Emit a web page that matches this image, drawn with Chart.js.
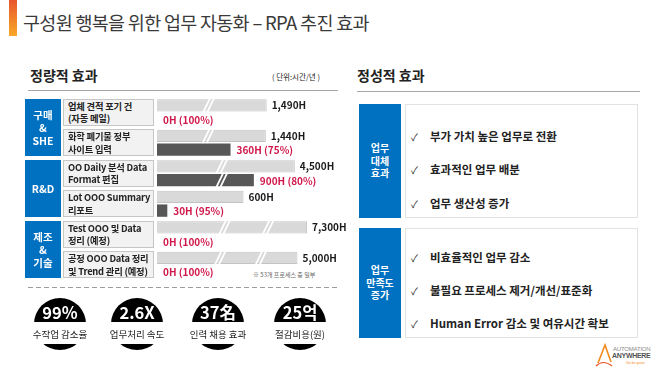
<!DOCTYPE html>
<html>
<head>
<meta charset="utf-8">
<script src="https://cdn.jsdelivr.net/npm/chart.js@4.4.1/dist/chart.umd.min.js"></script>
<style>
body { margin:0; width:660px; height:371px; overflow:hidden; background:#fff; position:relative;
       font-family:"Noto Sans CJK KR","Noto Sans",sans-serif; color:#222; }
.abs { position:absolute; }
.accent { left:9px; top:0; width:8px; height:36px; background:linear-gradient(#e8552b,#f8a928); }
.title { left:23px; top:7px; font-size:18.5px; line-height:30px; letter-spacing:-0.7px; color:#3a3a3a; white-space:nowrap; }
.h2 { font-size:14px; font-weight:700; line-height:20px; white-space:nowrap; }
.unit { left:272px; top:71px; font-size:7.5px; line-height:12px; white-space:nowrap; }
.rule { height:1px; background:#a6a6a6; }
.group { background:#0070c0; color:#fff; font-weight:700; font-size:10.5px; line-height:13px;
         display:flex; align-items:center; justify-content:center; text-align:center; white-space:pre; }
.task { background:#f2f2f2; border:1px solid #c6c6c6; box-sizing:border-box; font-weight:700; font-size:9.3px;
        line-height:12.5px; letter-spacing:-0.2px; padding-left:4px; display:flex; flex-direction:column; justify-content:center; white-space:nowrap; }
.note { left:253px; top:270px; font-size:6px; line-height:10px; color:#666; white-space:nowrap; }
.dash { left:28px; top:287px; width:310px; height:1px;
        background:repeating-linear-gradient(90deg,#9c9c9c 0 5px,transparent 5px 8px); }
.circle { width:52px; height:52px; border-radius:50%; background:#000; }
.band { width:70px; height:22px; background:#fff; }
.kval { width:70px; text-align:center; color:#fff; font-weight:700; font-size:16.5px; line-height:20px; }
.klab { width:90px; text-align:center; font-size:9.5px; line-height:14px; white-space:nowrap; }
.tag { left:359px; width:42px; background:#0070c0; color:#fff; font-weight:700; font-size:10px; line-height:12.5px;
       display:flex; align-items:center; justify-content:center; text-align:center; white-space:pre; }
.panel { left:405px; width:233px; border:1px solid #e2e2e2; box-sizing:border-box; background:#fff; }
.item { left:411px; font-weight:700; font-size:11.5px; line-height:16px; white-space:nowrap; }
.item span { display:inline-block; width:19px; font-weight:400; font-size:10px; }
#barWrap { left:155px; top:95px; width:200px; height:190px; }
</style>
</head>
<body>
<div class="abs accent"></div>
<div class="abs title">구성원 행복을 위한 업무 자동화 – RPA 추진 효과</div>
<div class="abs h2" style="left:30px;top:65px">정량적 효과</div>
<div class="abs unit">( 단위:시간/년 )</div>
<div class="abs rule" style="left:28px;top:90px;width:310px"></div>
<div class="abs h2" style="left:357px;top:65px">정성적 효과</div>
<div class="abs rule" style="left:357px;top:91px;width:283px"></div>
<div class="abs note">※ 53개 프로세스 중 일부</div>
<div class="abs dash"></div>
<div id="barWrap" class="abs"><canvas id="hoursChart" width="200" height="190"></canvas></div>
<div id="layer"></div>
<svg class="abs" style="left:594px;top:342px" width="66" height="29" viewBox="0 0 66 29">
  <path d="M4 21 L11 3 L17 20" fill="none" stroke="#f28a1e" stroke-width="1.6"/>
  <path d="M2 24 Q9 17 18 24" fill="none" stroke="#e8552b" stroke-width="1.2"/>
  <text x="19" y="9" font-size="6" fill="#8a8a8a" font-family="Liberation Sans" letter-spacing="-0.2">AUTOMATION</text>
  <text x="18" y="16" font-size="7" font-weight="700" fill="#555" font-family="Liberation Sans" letter-spacing="-0.3">ANYWHERE</text>
  <text x="32" y="22" font-size="3.5" fill="#f28a1e" font-family="Liberation Sans">Go be great.</text>
</svg>
<script>
// 정량적 효과 (단위: 시간/년)
const groupNames = ['구매\n&\nSHE', 'R&D', '제조\n&\n기술'];
const taskGroups = [0, 0, 1, 1, 2, 2];
const taskNames = [
    ['업체 견적 포기 건', '(자동 메일)'],
    ['화학 폐기물 정부', '사이트 입력'],
    ['OO Daily 분석 Data', 'Format 편집'],
    ['Lot OOO Summary', '리포트'],
    ['Test OOO 및 Data', '정리 (예정)'],
    ['공정 OOO Data 정리', '및 Trend 관리 (예정)']
];
const hoursBefore = [1490, 1440, 4500, 600, 7300, 5000];
const hoursAfter = [0, 360, 900, 30, 0, 0];
// 축 생략 표시(//) 개수
const breaksBefore = [1, 1, 1, 0, 2, 2];
const breaksAfter = [0, 0, 1, 0, 0, 0];

// KPI
const kpiValues = ['99%', '2.6X', '37名', '25억'];
const kpiLabels = ['수작업 감소율', '업무처리 속도', '인력 채용 효과', '절감비용(원)'];

// 정성적 효과
const replaceTag = '업무\n대체\n효과';
const replaceItems = ['부가 가치 높은 업무로 전환', '효과적인 업무 배분', '업무 생산성 증가'];
const satisfyTag = '업무\n만족도\n증가';
const satisfyItems = ['비효율적인 업무 감소', '불필요 프로세스 제거/개선/표준화', 'Human Error 감소 및 여유시간 확보'];

function fmt(v) { return v.toLocaleString('en-US') + 'H'; }

// 막대 라벨 + 생략 표시
const barDecor = {
    id: 'barDecor',
    afterDatasetsDraw(chart) {
        const ctx = chart.ctx;
        const m0 = chart.getDatasetMeta(0);
        const m1 = chart.getDatasetMeta(1);
        ctx.save();
        ctx.textBaseline = 'middle';
        ctx.font = 'bold 10px "Noto Sans CJK KR"';
        m0.data.forEach(function(bar, i) {
            const len = bar.x - bar.base;
            const fr = breaksBefore[i] === 1 ? [0.47] : breaksBefore[i] === 2 ? [0.45, 0.74] : [];
            fr.forEach(function(f) {
                drawBreak(ctx, bar.base + f * len, bar.y, bar.height);
                if (breaksAfter[i]) drawBreak(ctx, bar.base + f * len, m1.data[i].y, m1.data[i].height);
            });
            ctx.fillStyle = '#1a1a1a';
            ctx.fillText(fmt(hoursBefore[i]), bar.x + 5, bar.y);
        });
        ctx.fillStyle = '#d0174a';
        m1.data.forEach(function(bar, i) {
            const pct = Math.round((1 - hoursAfter[i] / hoursBefore[i]) * 100);
            ctx.fillText(fmt(hoursAfter[i]) + ' (' + pct + '%)', bar.x + 6, bar.y + 1);
        });
        ctx.restore();
    }
};

function drawBreak(ctx, x, y, h) {
    ctx.strokeStyle = '#fff';
    ctx.lineWidth = 1.8;
    [-2, 2].forEach(function(o) {
        ctx.beginPath();
        ctx.moveTo(x + o - 3.5, y + h / 2 + 1);
        ctx.lineTo(x + o + 3.5, y - h / 2 - 1);
        ctx.stroke();
    });
}

const chart = new Chart(document.getElementById('hoursChart'), {
    type: 'bar',
    data: {
        labels: taskNames.map(function(t) { return t.join(' '); }),
        datasets: [{
            label: '기존',
            data: hoursBefore,
            backgroundColor: '#d9d9d9',
            borderColor: '#c3c3c3',
            borderWidth: 1,
            categoryPercentage: 0.9,
            barPercentage: 0.9
        }, {
            label: 'RPA 적용 후',
            data: hoursAfter,
            backgroundColor: '#575757',
            minBarLength: 2,
            categoryPercentage: 0.9,
            barPercentage: 0.9
        }]
    },
    options: {
        indexAxis: 'y',
        responsive: false,
        animation: false,
        layout: { padding: { left: 2, top: 2, right: 8, bottom: 5 } },
        scales: {
            x: { type: 'logarithmic', min: 20, max: 35000, display: false },
            y: { display: false }
        },
        plugins: { legend: { display: false }, tooltip: { enabled: false } }
    },
    plugins: [barDecor]
});

// 좌측 표 (행 위치는 차트의 y축에서 가져옴)
const layer = document.getElementById('layer');
function add(cls, css, html) {
    const d = document.createElement('div');
    d.className = 'abs ' + cls;
    d.style.cssText = css;
    d.innerHTML = html || '';
    layer.appendChild(d);
    return d;
}
const yScale = chart.scales.y;
const rowY = taskNames.map(function(t, i) { return 95 + yScale.getPixelForValue(i); });
taskNames.forEach(function(t, i) {
    add('task', 'left:63px;width:91px;top:' + (rowY[i] - 13.5) + 'px;height:27px',
        '<div>' + t[0] + '</div><div>' + t[1] + '</div>');
});
groupNames.forEach(function(g, gi) {
    const rows = rowY.filter(function(y, i) { return taskGroups[i] === gi; });
    const top = rows[0] - 13.5, bottom = rows[rows.length - 1] + 13.5;
    add('group', 'left:25px;width:36px;top:' + top + 'px;height:' + (bottom - top) + 'px').textContent = g;
});

// KPI 배지
const kpiX = [60, 137, 218, 300];
kpiValues.forEach(function(v, i) {
    const cx = kpiX[i];
    add('circle', 'left:' + (cx - 26) + 'px;top:298px');
    add('band', 'left:' + (cx - 35) + 'px;top:322px');
    add('kval', 'left:' + (cx - 35) + 'px;top:302px', v);
    add('klab', 'left:' + (cx - 45) + 'px;top:327px', kpiLabels[i]);
});

// 정성적 효과
function panel(tag, items, top, h, ys) {
    add('tag', 'top:' + top + 'px;height:' + h + 'px').textContent = tag;
    add('panel', 'top:' + top + 'px;height:' + h + 'px');
    items.forEach(function(t, i) {
        add('item', 'top:' + (ys[i] - 8) + 'px', '<span>✓</span>' + t);
    });
}
panel(replaceTag, replaceItems, 104, 114, [136, 169, 203]);
panel(satisfyTag, satisfyItems, 228, 110, [257, 290, 323]);
</script>
</body>
</html>
